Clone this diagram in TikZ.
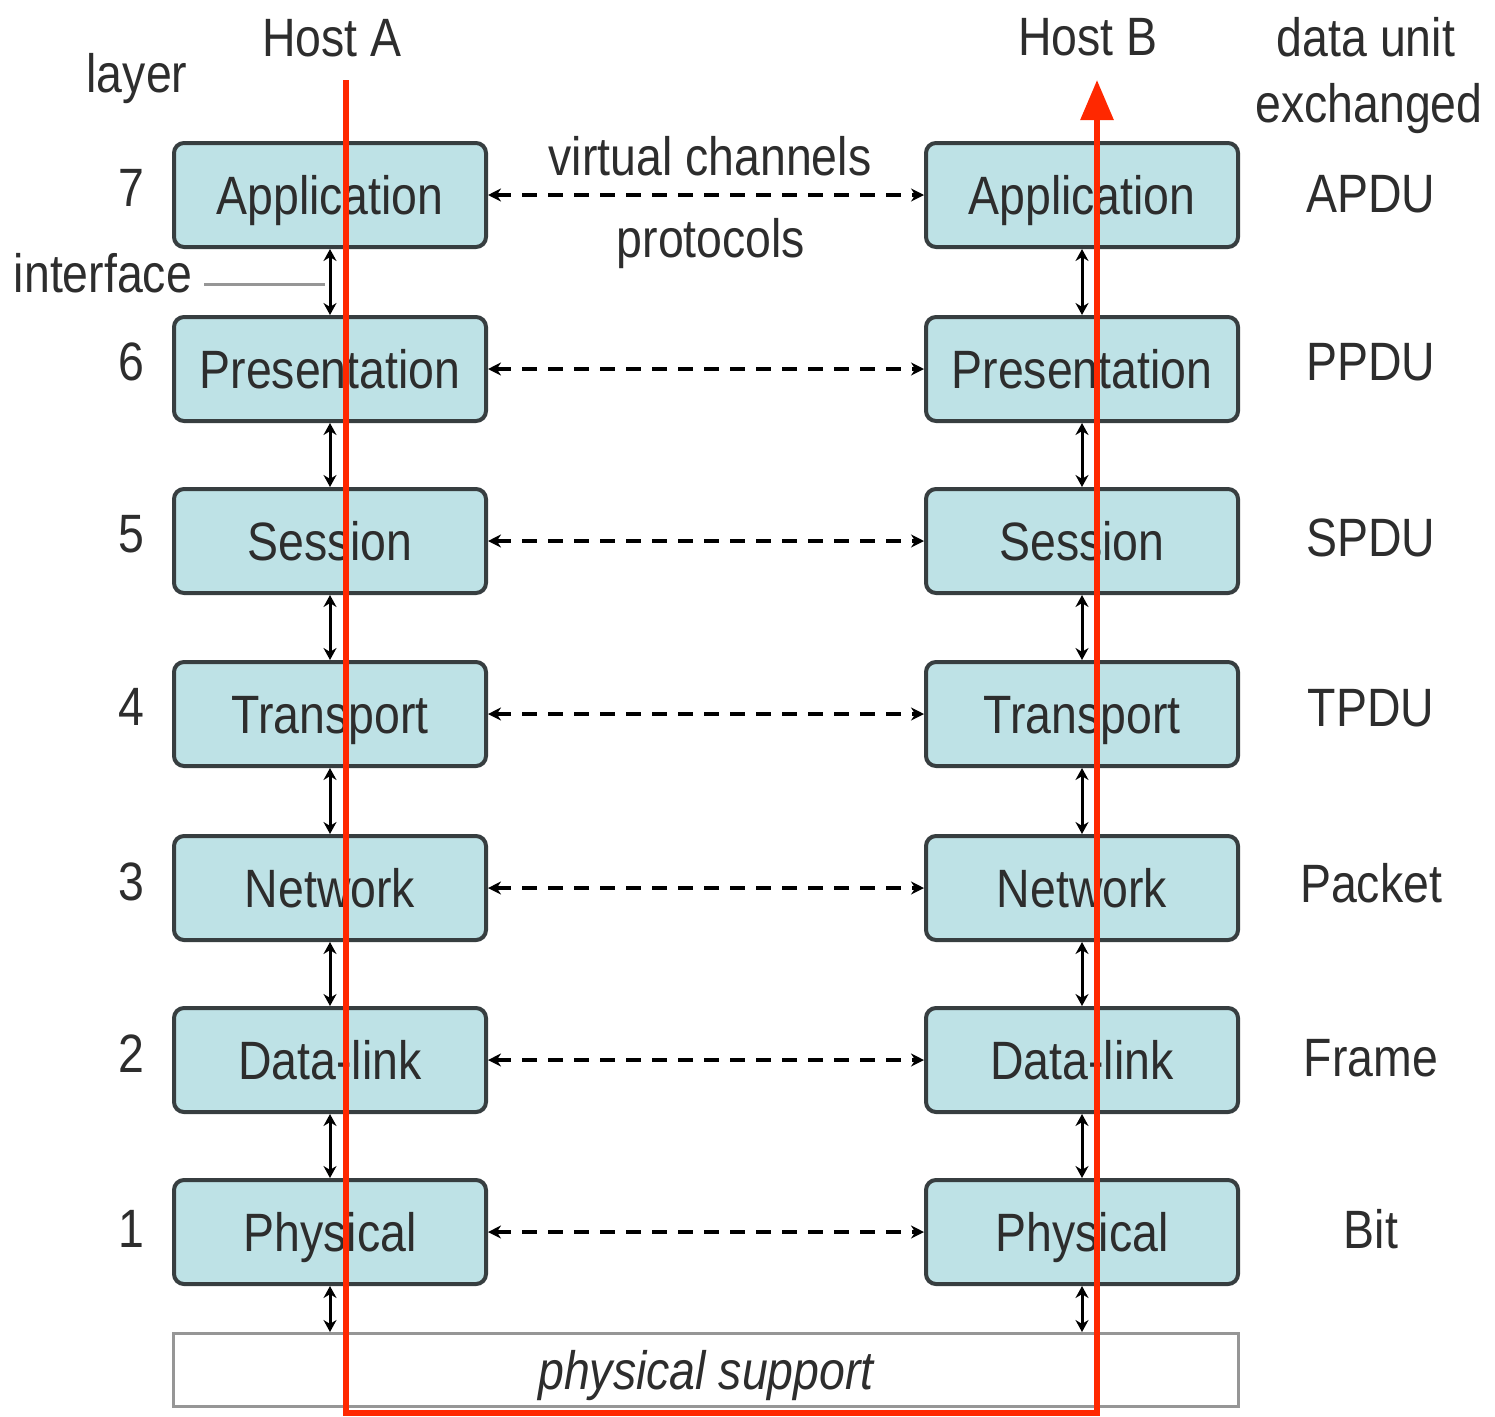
\documentclass[tikz,border=0pt]{standalone}
\usepackage{fontspec}
\setmainfont[FakeStretch=0.86]{Liberation Sans}
\usetikzlibrary{arrows.meta}
\definecolor{boxfill}{RGB}{190,226,230}
\definecolor{boxline}{RGB}{55,62,64}
\definecolor{txt}{RGB}{45,45,45}
\definecolor{redline}{RGB}{255,40,0}
\definecolor{supline}{RGB}{150,150,150}
\begin{document}
\begin{tikzpicture}[x=1pt,y=-1pt,
  font=\fontsize{54}{60}\selectfont,
  layerbox/.style={draw=boxline, line width=4pt, fill=boxfill, rounded corners=10pt,
    minimum width=312pt, minimum height=104pt, text=txt, inner sep=0pt,
    text height=39pt, text depth=0pt},
  lbl/.style={text=txt, inner sep=0pt, text height=39pt, text depth=0pt},
  iface/.style={{Stealth[length=12pt,width=13pt]}-{Stealth[length=12pt,width=13pt]}, line width=3pt, black},
  vchan/.style={{Stealth[length=13pt,width=13pt]}-{Stealth[length=13pt,width=13pt]}, line width=3.5pt, black, dash pattern=on 15pt off 11pt},
  redpath/.style={draw=redline, line width=6pt, line join=miter, -{Triangle[length=40pt,width=32pt]}}
]
\useasboundingbox (0,0) rectangle (1495,1416);

% boxes
\foreach \n/\t/\y in {7/Application/195, 6/Presentation/369, 5/Session/541, 4/Transport/714, 3/Network/888, 2/Data-link/1060, 1/Physical/1232}{
  \node[layerbox] (a\n) at (330,\y) {\t};
  \node[layerbox] (b\n) at (1082,\y) {\t};
}

% physical support
\node[draw=supline, line width=3pt, fill=white, minimum width=1065pt, minimum height=73pt,
  inner sep=0pt, text=txt, text height=39pt, text depth=0pt, font=\fontsize{54}{60}\selectfont\itshape]
  (sup) at (706,1370) {physical support};

% layer numbers
\foreach \n/\y in {7/187, 6/361, 5/533, 4/706, 3/881, 2/1053, 1/1228}{
  \node[lbl] (num\n) at (131,\y) {\n};
}

% data units
\foreach \n/\t/\y in {7/APDU/193, 6/PPDU/361, 5/SPDU/537, 4/TPDU/707, 3/Packet/883, 2/Frame/1057, 1/Bit/1229}{
  \node[lbl] (du\n) at (1371,\y) {\t};
}

% headers
\node[lbl] (layer) at (137,73) {layer};
\node[lbl] (hostA) at (332,37) {Host A};
\node[lbl] (hostB) at (1088,36) {Host B};
\node[lbl] (du1h) at (1366,37) {data unit};
\node[lbl] (du2h) at (1369,103) {exchanged};
\node[lbl] (vc) at (710,156) {virtual channels};
\node[lbl] (proto) at (711,238) {protocols};
\node[lbl] (iftxt) at (103,273) {interface};

% interface pointer line
\coordinate (ifend) at (325,284);
\draw[supline, line width=3pt] (iftxt.east |- ifend) ++(12,0) -- (ifend);

% interface arrows
\foreach \u/\l in {7/6, 6/5, 5/4, 4/3, 3/2, 2/1}{
  \draw[iface] (a\u.south) -- (a\l.north);
  \draw[iface] (b\u.south) -- (b\l.north);
}
\draw[iface] (a1.south) -- (a1.south |- sup.north);
\draw[iface] (b1.south) -- (b1.south |- sup.north);

% virtual channels
\foreach \n in {7,6,5,4,3,2,1}{
  \draw[vchan] (a\n.east) -- (b\n.west);
}

% red data path
\coordinate (rA) at (346,80);
\coordinate (rAb) at (346,1413);
\coordinate (rBb) at (1097,1413);
\coordinate (rB) at (1097,80);
\draw[redpath] (rA) -- (rAb) -- (rBb) -- (rB);
\end{tikzpicture}
\end{document}
